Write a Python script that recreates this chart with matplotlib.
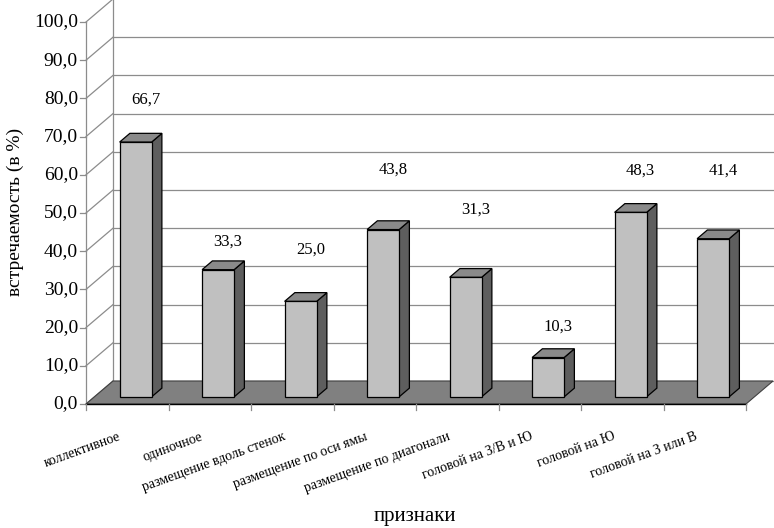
import matplotlib
matplotlib.use("Agg")
import matplotlib.pyplot as plt
from matplotlib.patches import Polygon

# data
categories = ["коллективное", "одиночное", "размещение вдоль стенок",
              "размещение по оси ямы", "размещение по диагонали",
              "головой на З/В и Ю", "головой на Ю", "головой на З или В"]
values = [66.7, 33.3, 25.0, 43.8, 31.3, 10.3, 48.3, 41.4]
value_labels = ["66,7", "33,3", "25,0", "43,8", "31,3", "10,3", "48,3", "41,4"]
y_ticks = [0, 10, 20, 30, 40, 50, 60, 70, 80, 90, 100]
y_tick_labels = ["0,0", "10,0", "20,0", "30,0", "40,0", "50,0", "60,0",
                 "70,0", "80,0", "90,0", "100,0"]
# where Excel put the value labels (in value units)
label_y = [79.8, 42.4, 40.3, 61.3, 50.8, 20.2, 61.0, 61.0]

plt.rcParams['font.family'] = ['Liberation Serif', 'DejaVu Serif']

# pixel geometry of the reference: 82.5 px per category, 3.82 px per unit
PX_X = 82.5
PX_Y = 3.82
X0, Y0 = 86, 404
W, H = 774, 528
DX = 27 / PX_X          # floor depth, horizontal
DY = 23 / PX_Y          # floor depth, vertical
D0, D1 = 0.31, 0.69     # bar front/back as a fraction of depth
BAR_W = 0.388

fig = plt.figure(figsize=(W / 100, H / 100), dpi=100)
ax = fig.add_axes([0, 0, 1, 1])
ax.set_xlim(-X0 / PX_X, (W - X0) / PX_X)
ax.set_ylim(-(H - Y0) / PX_Y, Y0 / PX_Y)
ax.axis('off')

n = len(categories)
grid_c = '#8c8c8c'
top = y_ticks[-1]

# back wall gridlines and left wall diagonals
for v in y_ticks:
    ax.plot([DX, n + DX + 1], [v + DY, v + DY], color=grid_c, lw=0.9, zorder=1)
    ax.plot([0, DX], [v, v + DY], color=grid_c, lw=0.9, zorder=1)
    ax.plot([-6 / PX_X, 0], [v, v], color=grid_c, lw=0.9, zorder=1)
    ax.text(-8 / PX_X, v, y_tick_labels[y_ticks.index(v)], ha='right', va='center',
            fontsize=14)
ax.plot([0, 0], [0, top], color=grid_c, lw=0.9, zorder=1)
ax.plot([DX, DX], [DY, top + DY], color=grid_c, lw=0.9, zorder=1)

# floor
floor = Polygon([(0, 0), (n, 0), (n + DX, DY), (DX, DY)], closed=True,
                facecolor='#808080', edgecolor='#404040', lw=0.8, zorder=2)
ax.add_patch(floor)
ax.plot([0, n], [0, 0], color='black', lw=1.0, zorder=3)
for i in range(n + 1):
    ax.plot([i, i], [0, -6 / PX_Y], color=grid_c, lw=0.9, zorder=3)

# bars
bdx = (D1 - D0) * DX
bdy = (D1 - D0) * DY
b0 = D0 * DY
for i, v in enumerate(values):
    x0 = i + (1 - BAR_W) / 2 + D0 * DX
    ax.bar(x0, v, width=BAR_W, bottom=b0, align='edge', color='#c0c0c0',
           edgecolor='black', lw=0.9, zorder=5)
    side = Polygon([(x0 + BAR_W, b0), (x0 + BAR_W + bdx, b0 + bdy),
                    (x0 + BAR_W + bdx, b0 + v + bdy), (x0 + BAR_W, b0 + v)],
                   closed=True, facecolor='#5e5e5e', edgecolor='black', lw=0.9, zorder=4)
    topf = Polygon([(x0, b0 + v), (x0 + BAR_W, b0 + v),
                    (x0 + BAR_W + bdx, b0 + v + bdy), (x0 + bdx, b0 + v + bdy)],
                   closed=True, facecolor='#8a8a8a', edgecolor='black', lw=0.9, zorder=4)
    ax.add_patch(side)
    ax.add_patch(topf)
    ax.text(i + 0.5 + 0.22, label_y[i], value_labels[i], ha='center', va='center',
            fontsize=12)

# category labels
for i, c in enumerate(categories):
    ax.text(i + 0.5 - 0.12, -6.8, c, ha='right', va='top', rotation=20,
            rotation_mode='anchor', fontsize=10)

ax.text((W / 2 + 28 - X0) / PX_X, -(517 - Y0) / PX_Y, "признаки", ha='center',
        va='center', fontsize=15)
ax.text(-(X0 - 15) / PX_X, (Y0 - 212) / PX_Y, "встречаемость (в %)", ha='center',
        va='center', rotation=90, fontsize=14)

fig.savefig("out.png", dpi=100)
